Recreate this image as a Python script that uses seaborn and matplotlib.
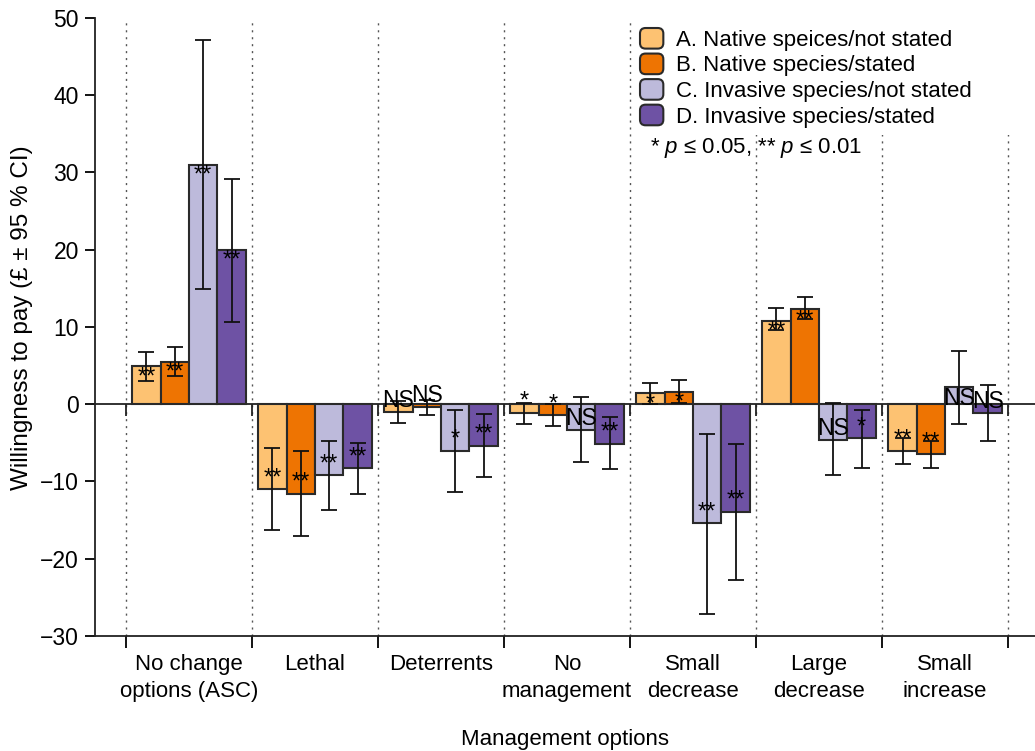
import numpy as np
import pandas as pd
import matplotlib
matplotlib.use("Agg")
import matplotlib.pyplot as plt
import matplotlib.patches as mpatches
from matplotlib.legend_handler import HandlerPatch
import seaborn as sns


# data

options = ["No change\noptions (ASC)", "Lethal", "Deterrents", "No\nmanagement",
           "Small\ndecrease", "Large\ndecrease", "Small\nincrease"]
groups = ["A. Native speices/not stated", "B. Native species/stated",
          "C. Invasive species/not stated", "D. Invasive species/stated"]

wtp_a = [4.9, -11.0, -1.0, -1.1, 1.4, 10.8, -6.0]
lo_a = [3.0, -16.3, -2.4, -2.5, 0.0, 9.6, -7.7]
hi_a = [6.8, -5.6, 0.4, 0.2, 2.8, 12.4, -4.4]
sig_a = ["**", "**", "NS", "*", "*", "**", "**"]

wtp_b = [5.5, -11.6, -0.4, -1.4, 1.6, 12.3, -6.4]
lo_b = [3.6, -17.1, -1.4, -2.8, 0.2, 11.1, -8.2]
hi_b = [7.4, -6.0, 0.6, 0.0, 3.1, 13.9, -4.8]
sig_b = ["**", "**", "NS", "*", "*", "**", "**"]

wtp_c = [31.0, -9.2, -6.0, -3.3, -15.4, -4.6, 2.2]
lo_c = [14.9, -13.7, -11.3, -7.5, -27.1, -9.2, -2.5]
hi_c = [47.1, -4.7, -0.8, 0.9, -3.8, 0.1, 6.9]
sig_c = ["**", "**", "*", "NS", "**", "NS", "NS"]

wtp_d = [20.0, -8.3, -5.4, -5.1, -13.9, -4.4, -1.1]
lo_d = [10.7, -11.6, -9.4, -8.4, -22.7, -8.2, -4.7]
hi_d = [29.2, -5.0, -1.2, -1.6, -5.1, -0.8, 2.5]
sig_d = ["**", "**", "**", "**", "**", "*", "NS"]

colors = ["#FDC272", "#EE7402", "#BDBADB", "#6E52A4"]

values = [wtp_a, wtp_b, wtp_c, wtp_d]
lows = [lo_a, lo_b, lo_c, lo_d]
highs = [hi_a, hi_b, hi_c, hi_d]
sigs = [sig_a, sig_b, sig_c, sig_d]

rows = []
for g, vals in zip(groups, values):
    for o, v in zip(options, vals):
        rows.append({"Option": o, "Group": g, "WTP": v})
df = pd.DataFrame(rows)


# style

sns.set_style("ticks")
plt.rcParams["font.family"] = ["Liberation Sans", "DejaVu Sans"]
plt.rcParams["mathtext.fontset"] = "custom"
plt.rcParams["mathtext.it"] = "Liberation Sans:italic"
plt.rcParams["mathtext.rm"] = "Liberation Sans"
for key in ["text.color", "axes.labelcolor", "xtick.color", "ytick.color"]:
    plt.rcParams[key] = "black"

fig = plt.figure(figsize=(10.35, 7.51), dpi=100)
ax = fig.add_axes([95 / 1035, 115 / 751, 940 / 1035, 618 / 751])

sns.barplot(
    data=df, x="Option", y="WTP", hue="Group",
    order=options, hue_order=groups, palette=colors, saturation=1,
    width=0.9, edgecolor="#2a2a2a", linewidth=1.5,
    errorbar=None, legend=False, ax=ax, zorder=3
)


# error bars and significance labels

bar_sets = list(ax.containers)
for i, cont in enumerate(bar_sets):
    xs = np.array([p.get_x() + p.get_width() / 2 for p in cont.patches])
    y = np.array(values[i])
    err = [y - np.array(lows[i]), np.array(highs[i]) - y]
    ax.errorbar(xs, y, yerr=err, fmt="none", ecolor="#111111",
                elinewidth=1.3, capsize=6, capthick=1.3, zorder=4)
    for x, v, s in zip(xs, y, sigs[i]):
        va = "top" if v >= 0 else "bottom"
        fs = 16.5 if s == "NS" else 17
        ax.text(x, v, s, ha="center", va=va, fontsize=fs, zorder=5)


# axes layout

bounds = np.arange(-0.5, len(options))
for b in bounds:
    ax.axvline(b, color="#555555", lw=1, ls=(0, (1.5, 3.5)), zorder=1)
ax.axhline(0, color="#222222", lw=1.3, zorder=2)
ax.vlines(bounds, -1.5, 0, color="#222222", lw=1.3, zorder=2)

ax.set_xlim(-0.746, 6.714)
ax.set_ylim(-30, 50)
ax.set_yticks(np.arange(-30, 51, 10))
ax.set_xticks(bounds)
ax.set_xticklabels([])
ax.set_xticks(np.arange(len(options)), minor=True)
ax.set_xticklabels(options, minor=True, fontsize=16, linespacing=1.35)
ax.tick_params(axis="x", which="major", length=8.5, width=1.3, direction="out")
ax.tick_params(axis="x", which="minor", length=0, pad=13)
ax.tick_params(axis="y", length=7.5, width=1.3, labelsize=16.5, pad=4)

sns.despine(ax=ax)
for side in ["left", "bottom"]:
    ax.spines[side].set_linewidth(1.3)
    ax.spines[side].set_color("#222222")

ax.set_xlabel("Management options", fontsize=16)
ax.xaxis.set_label_coords(0.5, -0.15)
ax.set_ylabel("Willingness to pay (£ ± 95 % CI)", fontsize=17.5)
ax.yaxis.set_label_coords(-0.066, 0.515)


# legend

def rounded_box(legend, orig_handle, xdescent, ydescent, width, height, fontsize):
    return mpatches.FancyBboxPatch((-xdescent, -ydescent), width, height,
                                   boxstyle="round,pad=0,rounding_size=4")


cover = mpatches.Rectangle((640 / 1035, 1 - 135 / 751), 395 / 1035, 135 / 751,
                           transform=fig.transFigure, facecolor="white",
                           edgecolor="none", zorder=1.5)
ax.add_patch(cover)

handles = [mpatches.Patch(facecolor=c, edgecolor="#2a2a2a", linewidth=1.5) for c in colors]
fig.legend(handles, groups, loc="upper left",
           bbox_to_anchor=(640 / 1035, 1 - 28 / 751),
           frameon=False, borderpad=0, borderaxespad=0,
           handlelength=1.05, handleheight=1.05, handletextpad=0.55,
           labelspacing=0.12, fontsize=16,
           handler_map={mpatches.Patch: HandlerPatch(patch_func=rounded_box)})

fig.text(650 / 1035, 1 - 148 / 751, "* $p$ ≤ 0.05, ** $p$ ≤ 0.01",
         va="center", ha="left", fontsize=16)

fig.savefig("out.png", dpi=100)
